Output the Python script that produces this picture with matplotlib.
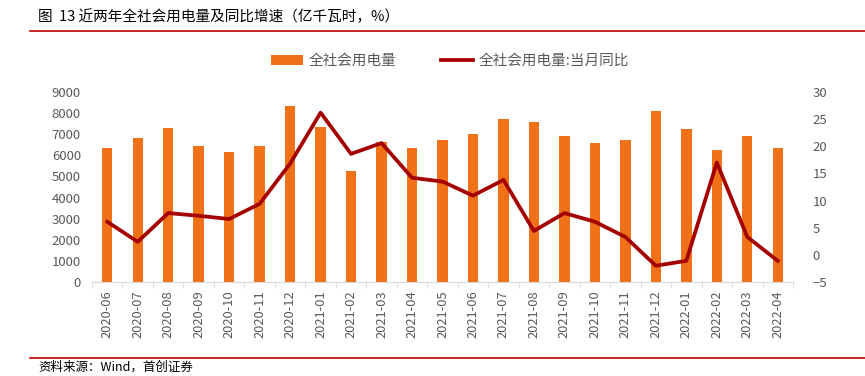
import matplotlib
matplotlib.use("Agg")
import matplotlib.pyplot as plt
import numpy as np

plt.rcParams['font.family'] = ['Noto Sans CJK SC', 'DejaVu Sans']

# 数据（亿千瓦时 / %）
months = ["2020-06", "2020-07", "2020-08", "2020-09", "2020-10", "2020-11", "2020-12",
          "2021-01", "2021-02", "2021-03", "2021-04", "2021-05", "2021-06", "2021-07",
          "2021-08", "2021-09", "2021-10", "2021-11", "2021-12", "2022-01", "2022-02",
          "2022-03", "2022-04"]
consumption = [6350, 6820, 7300, 6450, 6160, 6450, 8340,
               7350, 5260, 6630, 6350, 6720, 7010, 7720,
               7580, 6920, 6590, 6720, 8100, 7250, 6250,
               6920, 6350]
yoy = [6.1, 2.4, 7.7, 7.2, 6.6, 9.4, 16.8,
       26.2, 18.6, 20.6, 14.2, 13.5, 10.9, 13.8,
       4.4, 7.7, 6.1, 3.3, -2.0, -1.1, 17.0,
       3.3, -1.1]

bar_color = "#F07118"
line_color = "#A50000"
txt_color = "#595959"

fig = plt.figure(figsize=(8.65, 3.76), dpi=100)

# 标题和红线
fig.text(38/865, 1 - 17/376, "图  13 近两年全社会用电量及同比增速（亿千瓦时，%）",
         fontsize=10.5, va="center", ha="left", color="black")
fig.add_artist(plt.Line2D([30/865, 1], [1 - 31/376] * 2, color="#C00000", lw=1.2))
fig.add_artist(plt.Line2D([30/865, 1], [1 - 358/376] * 2, color="#C00000", lw=1.2))
fig.text(38/865, 1 - 367/376, "资料来源：Wind，首创证券", fontsize=9, style="italic",
         va="center", ha="left", color="black")

ax = fig.add_axes([92/865, 1 - 282/376, (793 - 92)/865, (282 - 92)/376])
x = np.arange(len(months))
b = ax.bar(x, consumption, width=0.34, color=bar_color, label="全社会用电量", zorder=2)
ax.set_ylim(0, 9000)
ax.set_yticks(np.arange(0, 9001, 1000))
ax.set_xlim(-0.5, len(months) - 0.5)
ax.set_xticks(x)
ax.set_xticklabels(months, rotation=90, fontsize=9.3, color=txt_color)
ax.set_xticks(np.arange(-0.5, len(months), 1), minor=True)
ax.tick_params(axis="x", which="major", length=0, pad=6)
ax.tick_params(axis="x", which="minor", length=4, color="#D9D9D9")
ax.tick_params(axis="y", length=0, labelsize=9.5, labelcolor=txt_color, pad=8)
for s in ["top", "right", "left"]:
    ax.spines[s].set_visible(False)
ax.spines["bottom"].set_color("#D9D9D9")

ax2 = ax.twinx()
l, = ax2.plot(x, yoy, color=line_color, lw=2.7, label="全社会用电量:当月同比", zorder=3)
ax2.set_ylim(-5, 30)
ax2.set_yticks(np.arange(-5, 31, 5))
ax2.tick_params(axis="y", length=0, labelsize=9.5, labelcolor=txt_color, pad=14)
for s in ["top", "right", "left", "bottom"]:
    ax2.spines[s].set_visible(False)

fig.legend([b, l], ["全社会用电量", "全社会用电量:当月同比"], loc="center",
           bbox_to_anchor=(450/865, 1 - 61/376), ncol=2, frameon=False,
           fontsize=10.5, labelcolor=txt_color, handlelength=2.2, columnspacing=3,
           handletextpad=0.4)

fig.savefig("out.png", dpi=100)
